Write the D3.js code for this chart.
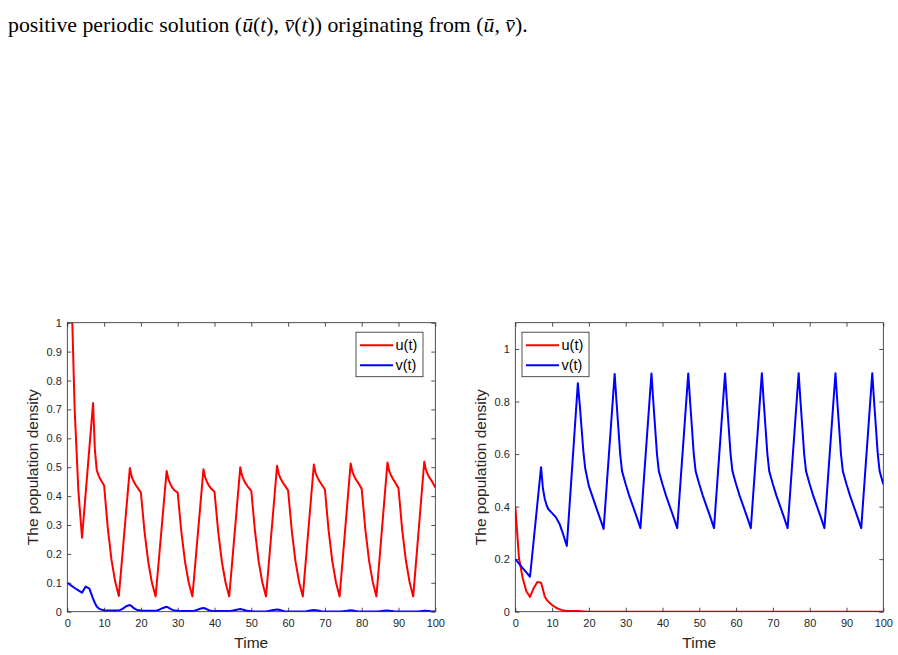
<!DOCTYPE html>
<html>
<head>
<meta charset="utf-8">
<script src="https://cdn.jsdelivr.net/npm/d3@7"></script>
<style>
  body { margin: 0; background: #fff; }
  svg { display: block; }
  .sans { font-family: "Liberation Sans", Arial, Helvetica, sans-serif; }
</style>
</head>
<body>
<svg id="chart" width="898" height="655"></svg>
<script>
// sample times (integer steps plus half steps around each spike)
const time = [
  0, 1, 2, 3, 4, 5, 6, 7, 7.5, 8, 8.5, 9,
  10, 11, 12, 13, 14, 15, 16, 17, 17.5, 18, 18.5, 19,
  20, 21, 22, 23, 24, 25, 26, 27, 27.5, 28, 28.5, 29,
  30, 31, 32, 33, 34, 35, 36, 37, 37.5, 38, 38.5, 39,
  40, 41, 42, 43, 44, 45, 46, 47, 47.5, 48, 48.5, 49,
  50, 51, 52, 53, 54, 55, 56, 57, 57.5, 58, 58.5, 59,
  60, 61, 62, 63, 64, 65, 66, 67, 67.5, 68, 68.5, 69,
  70, 71, 72, 73, 74, 75, 76, 77, 77.5, 78, 78.5, 79,
  80, 81, 82, 83, 84, 85, 86, 87, 87.5, 88, 88.5, 89,
  90, 91, 92, 93, 94, 95, 96, 97, 97.5, 98, 98.5, 99,
  100
];

// left panel
const uLeft = [
  2.0, 1.17, 0.7, 0.42, 0.256, 0.411, 0.567, 0.722, 0.56, 0.49, 0.472, 0.458,
  0.437, 0.29, 0.18, 0.105, 0.054, 0.2, 0.35, 0.497, 0.467, 0.452, 0.44, 0.431,
  0.412, 0.275, 0.172, 0.1, 0.053, 0.197, 0.343, 0.487, 0.457, 0.442, 0.43, 0.421,
  0.412, 0.275, 0.172, 0.1, 0.053, 0.199, 0.346, 0.493, 0.463, 0.448, 0.436, 0.427,
  0.415, 0.277, 0.173, 0.101, 0.053, 0.201, 0.35, 0.5, 0.47, 0.455, 0.443, 0.434,
  0.418, 0.279, 0.174, 0.101, 0.053, 0.203, 0.354, 0.505, 0.475, 0.46, 0.448, 0.439,
  0.42, 0.28, 0.175, 0.102, 0.053, 0.205, 0.357, 0.509, 0.479, 0.464, 0.452, 0.443,
  0.423, 0.282, 0.176, 0.102, 0.053, 0.206, 0.36, 0.513, 0.483, 0.468, 0.456, 0.447,
  0.425, 0.283, 0.177, 0.103, 0.053, 0.207, 0.362, 0.516, 0.486, 0.471, 0.459, 0.45,
  0.427, 0.284, 0.178, 0.103, 0.053, 0.208, 0.363, 0.519, 0.489, 0.474, 0.462, 0.453,
  0.43
];
const vLeft = [
  0.1, 0.091, 0.082, 0.074, 0.066, 0.087, 0.08, 0.045, 0.03, 0.018, 0.012, 0.008,
  0.005, 0.004, 0.004, 0.004, 0.004, 0.01, 0.019, 0.023, 0.019, 0.013, 0.009, 0.006,
  0.004, 0.003, 0.003, 0.003, 0.003, 0.007, 0.013, 0.017, 0.014, 0.01, 0.007, 0.004,
  0.003, 0.002, 0.002, 0.002, 0.002, 0.005, 0.01, 0.013, 0.011, 0.008, 0.005, 0.003,
  0.002, 0.002, 0.002, 0.002, 0.002, 0.004, 0.007, 0.009, 0.008, 0.006, 0.004, 0.003,
  0.002, 0.001, 0.001, 0.001, 0.001, 0.003, 0.006, 0.008, 0.007, 0.005, 0.003, 0.002,
  0.001, 0.001, 0.001, 0.001, 0.001, 0.002, 0.004, 0.006, 0.005, 0.004, 0.003, 0.002,
  0.001, 0.001, 0.001, 0.001, 0.001, 0.002, 0.003, 0.005, 0.004, 0.003, 0.002, 0.001,
  0.001, 0.001, 0.001, 0.001, 0.001, 0.002, 0.003, 0.004, 0.003, 0.002, 0.002, 0.001,
  0.001, 0.001, 0.001, 0.001, 0.001, 0.001, 0.002, 0.003, 0.003, 0.002, 0.002, 0.001,
  0.001
];

// right panel
const uRight = [
  0.4, 0.205, 0.128, 0.078, 0.056, 0.09, 0.113, 0.11, 0.085, 0.058, 0.046, 0.038,
  0.025, 0.016, 0.009, 0.005, 0.003, 0.003, 0.003, 0.003, 0.002, 0.002, 0.001, 0.001,
  0, 0, 0, 0, 0, 0, 0, 0, 0, 0, 0, 0,
  0, 0, 0, 0, 0, 0, 0, 0, 0, 0, 0, 0,
  0, 0, 0, 0, 0, 0, 0, 0, 0, 0, 0, 0,
  0, 0, 0, 0, 0, 0, 0, 0, 0, 0, 0, 0,
  0, 0, 0, 0, 0, 0, 0, 0, 0, 0, 0, 0,
  0, 0, 0, 0, 0, 0, 0, 0, 0, 0, 0, 0,
  0, 0, 0, 0, 0, 0, 0, 0, 0, 0, 0, 0,
  0, 0, 0, 0, 0, 0, 0, 0, 0, 0, 0, 0,
  0
];
const vRight = [
  0.2, 0.183, 0.166, 0.15, 0.133, 0.272, 0.411, 0.55, 0.47, 0.43, 0.405, 0.39,
  0.375, 0.36, 0.335, 0.295, 0.25, 0.457, 0.663, 0.87, 0.79, 0.7, 0.61, 0.545,
  0.478, 0.437, 0.396, 0.356, 0.315, 0.512, 0.708, 0.905, 0.8, 0.7, 0.6, 0.535,
  0.485, 0.44, 0.4, 0.36, 0.318, 0.515, 0.711, 0.907, 0.8, 0.7, 0.6, 0.535,
  0.485, 0.44, 0.4, 0.36, 0.318, 0.515, 0.711, 0.907, 0.8, 0.7, 0.6, 0.535,
  0.485, 0.44, 0.4, 0.36, 0.318, 0.515, 0.711, 0.907, 0.8, 0.7, 0.6, 0.535,
  0.485, 0.44, 0.4, 0.36, 0.318, 0.515, 0.711, 0.908, 0.8, 0.7, 0.6, 0.535,
  0.485, 0.44, 0.4, 0.36, 0.318, 0.515, 0.711, 0.908, 0.8, 0.7, 0.6, 0.535,
  0.485, 0.44, 0.4, 0.36, 0.318, 0.515, 0.711, 0.908, 0.8, 0.7, 0.6, 0.535,
  0.485, 0.44, 0.4, 0.36, 0.318, 0.515, 0.711, 0.908, 0.8, 0.7, 0.6, 0.535,
  0.485
];

const xTicks = [0, 10, 20, 30, 40, 50, 60, 70, 80, 90, 100];
const yTicksLeft = [0, 0.1, 0.2, 0.3, 0.4, 0.5, 0.6, 0.7, 0.8, 0.9, 1];
const yTicksRight = [0, 0.2, 0.4, 0.6, 0.8, 1];
const seriesNames = ["u(t)", "v(t)"];
const seriesColors = ["#ff0000", "#0000ff"];

const svg = d3.select("#chart");
const axisColor = "#262626";
const W = 368, H = 289;

// the sentence above the figure, sized to the width it takes in the page
const caption = svg.append("text")
    .attr("x", 8)
    .attr("y", 32)
    .style("font-family", "'Liberation Serif', 'Times New Roman', serif")
    .style("font-size", "18px")
    .attr("fill", "#000");
const parts = [
  ["positive periodic solution (", false], ["\u016b", true], ["(", false], ["t", true], ["), ", false],
  ["v\u0304", true], ["(", false], ["t", true], [")) originating from (", false],
  ["\u016b", true], [", ", false], ["v\u0304", true], [").", false]
];
parts.forEach(p => caption.append("tspan").text(p[0]).style("font-style", p[1] ? "italic" : "normal"));
const capW = caption.node().getComputedTextLength();
caption.style("font-size", (18 * 520 / capW).toFixed(2) + "px");

function drawPanel(left, top, yMax, yTicks, yFmt, uData, vData, legendX, id) {
  const g = svg.append("g").attr("transform", `translate(${left},${top})`);
  const x = d3.scaleLinear().domain([0, 100]).range([0, W]);
  const y = d3.scaleLinear().domain([0, yMax]).range([H, 0]);

  g.append("clipPath").attr("id", id)
    .append("rect").attr("width", W).attr("height", H);

  const line = d3.line()
      .x((d, i) => x(time[i]))
      .y(d => y(d));

  [uData, vData].forEach((s, k) => {
    g.append("path")
      .datum(s)
      .attr("clip-path", `url(#${id})`)
      .attr("fill", "none")
      .attr("stroke", seriesColors[k])
      .attr("stroke-width", 2)
      .attr("stroke-linejoin", "round")
      .attr("d", line);
  });

  // axes, ticks pointing inwards, box on
  const styleAxis = sel => {
    sel.select(".domain").remove();
    sel.selectAll(".tick line").attr("stroke", axisColor).attr("stroke-width", 0.8);
    sel.selectAll(".tick text").attr("fill", axisColor)
      .style("font-family", "'Liberation Sans', Arial, sans-serif").style("font-size", "11px");
  };
  g.append("g").attr("transform", `translate(0,${H})`)
    .call(d3.axisBottom(x).tickValues(xTicks).tickSize(-4).tickPadding(8).tickFormat(d3.format("d")))
    .call(styleAxis);
  g.append("g")
    .call(d3.axisTop(x).tickValues(xTicks).tickSize(-4).tickFormat(""))
    .call(styleAxis);
  g.append("g")
    .call(d3.axisLeft(y).tickValues(yTicks).tickSize(-4).tickPadding(5.5).tickFormat(yFmt))
    .call(styleAxis);
  g.append("g").attr("transform", `translate(${W},0)`)
    .call(d3.axisRight(y).tickValues(yTicks).tickSize(-4).tickFormat(""))
    .call(styleAxis);

  g.append("rect")
    .attr("width", W).attr("height", H)
    .attr("fill", "none").attr("stroke", axisColor).attr("stroke-width", 0.8);

  g.append("text")
    .attr("class", "sans")
    .attr("x", W / 2).attr("y", H + 36)
    .attr("text-anchor", "middle")
    .attr("fill", axisColor)
    .style("font-size", "15.5px")
    .text("Time");

  g.append("text")
    .attr("class", "sans")
    .attr("transform", `translate(-29.5,${H / 2}) rotate(-90)`)
    .attr("text-anchor", "middle")
    .attr("fill", axisColor)
    .style("font-size", "15.5px")
    .text("The population density");

  // legend
  const lg = g.append("g").attr("transform", `translate(${legendX},9.5)`);
  lg.append("rect")
    .attr("width", 67).attr("height", 44.5)
    .attr("fill", "#fff").attr("stroke", axisColor).attr("stroke-width", 0.8);
  seriesNames.forEach((name, k) => {
    const cy = 13 + k * 20;
    lg.append("line")
      .attr("x1", 4).attr("x2", 37).attr("y1", cy).attr("y2", cy)
      .attr("stroke", seriesColors[k]).attr("stroke-width", 2);
    lg.append("text")
      .attr("class", "sans")
      .attr("x", 39.5).attr("y", cy + 5)
      .attr("fill", "#000")
      .style("font-size", "14.5px")
      .text(name);
  });
}

drawPanel(67.3, 322.7, 1, yTicksLeft, d3.format("~g"), uLeft, vLeft, 288.7, "clipL");
drawPanel(515.3, 322.7, 1.1, yTicksRight, d3.format("~g"), uRight, vRight, 6.7, "clipR");
</script>
</body>
</html>
